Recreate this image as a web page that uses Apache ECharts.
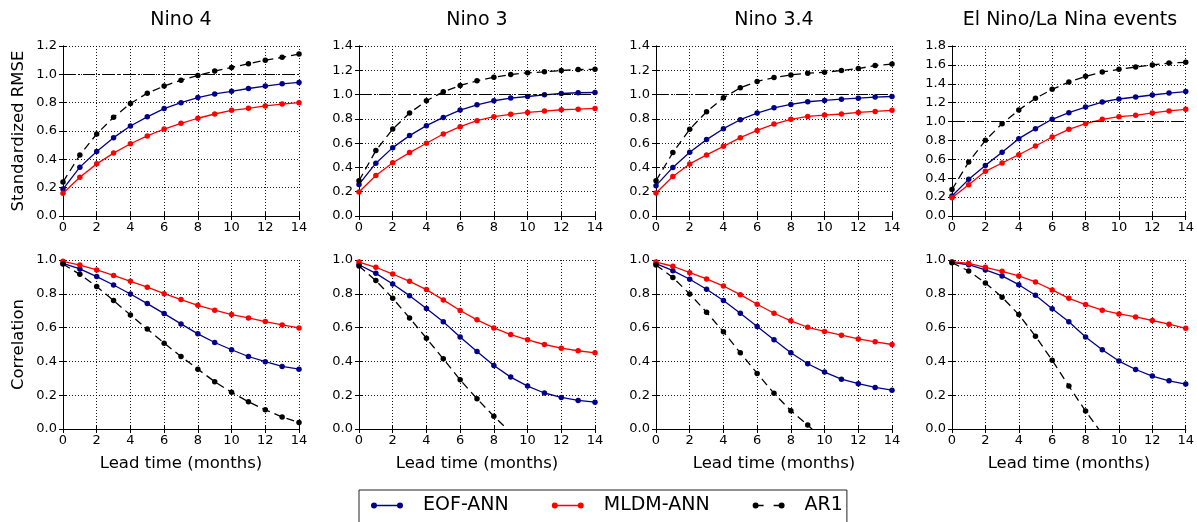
<!DOCTYPE html>
<html><head><meta charset="utf-8">
<script src="https://cdn.jsdelivr.net/npm/echarts@6/dist/echarts.min.js"></script>
<style>html,body{margin:0;padding:0;background:#fff}#c{width:1197px;height:522px}</style>
</head><body><div id="c"></div><script>
// ---------- data ----------
const leadTimes = [0,1,2,3,4,5,6,7,8,9,10,11,12,13,14];
const panelTitles = ['Nino 4', 'Nino 3', 'Nino 3.4', 'El Nino/La Nina events'];
const seriesNames = ['EOF-ANN', 'MLDM-ANN', 'AR1'];
const rmseMax = [1.2, 1.4, 1.4, 1.8];
const corrMax = 1.0;
const refLevel = 1.0;

// Standardized RMSE
const rmseNino4EOF  = [0.19,0.345,0.456,0.553,0.635,0.70,0.758,0.80,0.836,0.862,0.88,0.90,0.917,0.933,0.943];
const rmseNino4MLDM = [0.16,0.274,0.368,0.444,0.51,0.565,0.614,0.654,0.69,0.72,0.746,0.76,0.777,0.79,0.80];
const rmseNino4AR1  = [0.24,0.43,0.579,0.697,0.794,0.867,0.917,0.959,0.992,1.023,1.049,1.075,1.10,1.12,1.143];

const rmseNino3EOF  = [0.26,0.435,0.563,0.662,0.744,0.812,0.872,0.916,0.949,0.971,0.984,0.998,1.009,1.015,1.017];
const rmseNino3MLDM = [0.197,0.334,0.438,0.522,0.599,0.675,0.736,0.785,0.818,0.837,0.853,0.864,0.875,0.88,0.886];
const rmseNino3AR1  = [0.29,0.539,0.716,0.848,0.949,1.023,1.075,1.113,1.143,1.165,1.179,1.187,1.198,1.206,1.208];

const rmseNino34EOF  = [0.25,0.40,0.525,0.629,0.719,0.793,0.848,0.891,0.919,0.941,0.952,0.962,0.97,0.979,0.984];
const rmseNino34MLDM = [0.19,0.325,0.429,0.503,0.574,0.645,0.705,0.757,0.796,0.82,0.831,0.84,0.853,0.861,0.87];
const rmseNino34AR1  = [0.29,0.522,0.714,0.859,0.973,1.056,1.108,1.14,1.162,1.176,1.184,1.198,1.214,1.239,1.252];

const rmseEventsEOF  = [0.212,0.388,0.536,0.674,0.819,0.925,1.024,1.094,1.154,1.207,1.239,1.26,1.281,1.302,1.317];
const rmseEventsMLDM = [0.194,0.332,0.473,0.561,0.649,0.741,0.836,0.918,0.978,1.024,1.052,1.066,1.091,1.112,1.13];
const rmseEventsAR1  = [0.28,0.572,0.801,0.978,1.122,1.246,1.341,1.419,1.479,1.525,1.553,1.578,1.599,1.62,1.627];

// Correlation
const corrNino4EOF  = [0.98,0.947,0.902,0.852,0.799,0.742,0.683,0.622,0.563,0.512,0.469,0.429,0.398,0.37,0.354];
const corrNino4MLDM = [0.992,0.97,0.941,0.909,0.874,0.839,0.801,0.766,0.732,0.703,0.677,0.657,0.636,0.616,0.598];
const corrNino4AR1  = [0.976,0.915,0.843,0.76,0.675,0.591,0.508,0.429,0.354,0.28,0.217,0.161,0.114,0.071,0.039];

const corrNino3EOF  = [0.972,0.921,0.858,0.789,0.713,0.634,0.545,0.459,0.376,0.307,0.254,0.213,0.187,0.169,0.159];
const corrNino3MLDM = [0.988,0.957,0.917,0.874,0.825,0.764,0.701,0.646,0.598,0.559,0.528,0.5,0.478,0.463,0.451];
const corrNino3AR1  = [0.965,0.878,0.774,0.657,0.537,0.415,0.291,0.179,0.075,-0.02];

const corrNino34EOF  = [0.978,0.937,0.886,0.827,0.76,0.685,0.606,0.528,0.451,0.386,0.337,0.295,0.268,0.246,0.23];
const corrNino34MLDM = [0.988,0.963,0.925,0.888,0.846,0.795,0.738,0.685,0.64,0.602,0.577,0.555,0.533,0.516,0.5];
const corrNino34AR1  = [0.97,0.896,0.799,0.691,0.575,0.451,0.329,0.211,0.108,0.024,-0.07];

const corrEventsEOF  = [0.986,0.972,0.941,0.906,0.854,0.791,0.711,0.634,0.545,0.469,0.402,0.352,0.313,0.285,0.266];
const corrEventsMLDM = [0.99,0.98,0.957,0.933,0.906,0.87,0.823,0.773,0.736,0.703,0.681,0.663,0.642,0.62,0.596];
const corrEventsAR1  = [0.984,0.935,0.864,0.78,0.677,0.549,0.407,0.254,0.106,-0.03];

// ---------- layout / style ----------
const FONT = 'DejaVu Sans';
const colLeft = [63, 359, 656, 952];
const plotW = 236;
const rowTop = [46, 260];
const rowH = [170, 169];
const colors = ['#00008B', '#FF0000', '#000000'];

const panelData = [
  [rmseNino4EOF, rmseNino4MLDM, rmseNino4AR1],
  [rmseNino3EOF, rmseNino3MLDM, rmseNino3AR1],
  [rmseNino34EOF, rmseNino34MLDM, rmseNino34AR1],
  [rmseEventsEOF, rmseEventsMLDM, rmseEventsAR1],
  [corrNino4EOF, corrNino4MLDM, corrNino4AR1],
  [corrNino3EOF, corrNino3MLDM, corrNino3AR1],
  [corrNino34EOF, corrNino34MLDM, corrNino34AR1],
  [corrEventsEOF, corrEventsMLDM, corrEventsAR1]
];

const grids = [], xAxes = [], yAxes = [], series = [], titles = [];
const black = {color: '#000', width: 1};
const tick = {show: true, inside: true, length: 4, lineStyle: black};
const split = {show: true, lineStyle: {color: '#000', type: [1, 2], width: 1, opacity: 0.9}};

panelTitles.forEach((t, c) => {
  titles.push({text: t, left: colLeft[c] + plotW / 2, textAlign: 'center', top: 11, padding: 0,
    textStyle: {fontFamily: FONT, fontSize: 19, fontWeight: 'normal', color: '#000'}});
});

for (let r = 0; r < 2; r++) {
  for (let c = 0; c < 4; c++) {
    const idx = r * 4 + c;
    const yMax = r === 0 ? rmseMax[c] : corrMax;
    grids.push({left: colLeft[c], top: rowTop[r], width: plotW, height: rowH[r], containLabel: false});
    xAxes.push({type: 'value', gridIndex: idx, position: 'bottom', min: 0, max: 14, interval: 2,
      axisLine: {show: true, lineStyle: black}, axisTick: tick,
      axisLabel: {fontFamily: FONT, fontSize: 13, color: '#000', margin: 5},
      splitLine: split,
      name: r === 1 ? 'Lead time (months)' : '', nameLocation: 'middle', nameGap: 26,
      nameTextStyle: {fontFamily: FONT, fontSize: 16.5, color: '#000'}});
    xAxes.push({type: 'value', gridIndex: idx, position: 'top', min: 0, max: 14, interval: 2,
      axisLine: {show: true, lineStyle: black}, axisTick: tick, axisLabel: {show: false}, splitLine: {show: false}});
    yAxes.push({type: 'value', gridIndex: idx, position: 'left', min: 0, max: yMax, interval: 0.2,
      axisLine: {show: true, lineStyle: black}, axisTick: tick,
      axisLabel: {fontFamily: FONT, fontSize: 13, color: '#000', margin: 6, formatter: v => v.toFixed(1)},
      splitLine: split,
      name: c === 0 ? (r === 0 ? 'Standardized RMSE' : 'Correlation') : '',
      nameLocation: 'middle', nameGap: 36,
      nameTextStyle: {fontFamily: FONT, fontSize: 16.5, color: '#000'}});
    yAxes.push({type: 'value', gridIndex: idx, position: 'right', min: 0, max: yMax, interval: 0.2,
      axisLine: {show: true, lineStyle: black}, axisTick: tick, axisLabel: {show: false}, splitLine: {show: false}});

    panelData[idx].forEach((vals, s) => {
      const ser = {
        type: 'line', name: seriesNames[s], xAxisIndex: 2 * idx, yAxisIndex: 2 * idx,
        data: vals.map((v, i) => [leadTimes[i], v]),
        symbol: 'circle', symbolSize: 5.5, showSymbol: true, clip: true,
        lineStyle: {color: colors[s], width: 1.3, type: s === 2 ? [8, 5] : 'solid'},
        itemStyle: {color: colors[s]},
        emphasis: {disabled: true}, silent: true, z: 3 + s
      };
      if (r === 0 && s === 2) {
        ser.markLine = {silent: true, symbol: 'none', label: {show: false},
          lineStyle: {color: '#000', width: 1.2, type: [12, 3, 2, 3]},
          data: [{yAxis: refLevel}]};
      }
      series.push(ser);
    });
  }
}

const circL = 'M0,3A3,3 0 1 1 6,3A3,3 0 1 1 0,3Z';
const circR = 'M26,3A3,3 0 1 1 32,3A3,3 0 1 1 26,3Z';
const iconSolid = 'path://' + circL + ' M3,2.3L29,2.3L29,3.7L3,3.7Z ' + circR;
const iconDash = 'path://' + circL + ' M3,2.3L11,2.3L11,3.7L3,3.7Z M21,2.3L29,2.3L29,3.7L21,3.7Z ' + circR;

const option = {
  animation: false,
  backgroundColor: '#fff',
  title: titles,
  grid: grids,
  xAxis: xAxes,
  yAxis: yAxes,
  legend: {
    left: 359, top: 490, orient: 'horizontal', selectedMode: false,
    borderColor: '#222', borderWidth: 1, borderRadius: 0,
    padding: [6, 4, 20, 12], itemWidth: 32, itemHeight: 6, itemGap: 43,
    itemStyle: {borderWidth: 0},
    textStyle: {fontFamily: FONT, fontSize: 19, color: '#000', padding: [0, 0, 0, 15]},
    data: [
      {name: 'EOF-ANN', icon: iconSolid},
      {name: 'MLDM-ANN', icon: iconSolid},
      {name: 'AR1', icon: iconDash}
    ]
  },
  series: series
};
const chart = echarts.init(document.getElementById('c'), null, {renderer: 'canvas'});
chart.setOption(option);
</script></body></html>
